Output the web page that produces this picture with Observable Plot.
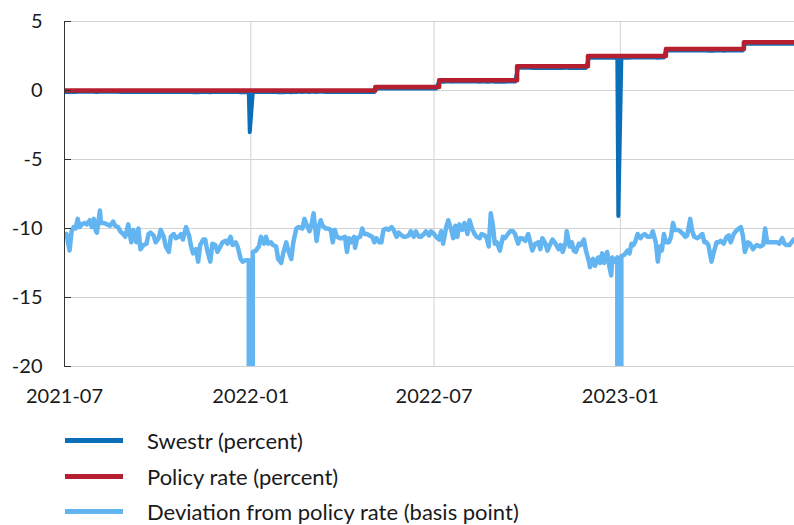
<!DOCTYPE html>
<html><head><meta charset="utf-8">
<script src="https://cdn.jsdelivr.net/npm/d3@7"></script>
<script src="https://cdn.jsdelivr.net/npm/@observablehq/plot@0.6"></script>
<style>
body{margin:0;background:#fff;font-family:Lato,sans-serif;width:794px;height:525px;overflow:hidden}
#legend{margin-top:3px}
.row{display:flex;align-items:center;height:35.5px}
.sw{margin-left:65px;width:58px;height:5px}
.lab{margin-left:24px;font-size:22px;color:#1a1a1a;white-space:nowrap}
</style></head><body><div id="chart"></div><div id="legend"></div>
<script>
// Policy rate (percent), step changes
const policyDates = ["2021-07-01","2022-05-04","2022-07-06","2022-09-21","2022-11-30","2023-02-15","2023-05-03","2023-06-22"];
const policyValues = [0, 0.25, 0.75, 1.75, 2.5, 3.0, 3.5, 3.5];

// Deviation of Swestr from policy rate (basis points)
const devDates = [
"2021-07-01","2021-07-03","2021-07-06","2021-07-08","2021-07-10","2021-07-12","2021-07-14","2021-07-16","2021-07-18","2021-07-21","2021-07-23","2021-07-26","2021-07-28","2021-07-30",
"2021-08-01","2021-08-02","2021-08-05","2021-08-06","2021-08-09","2021-08-12","2021-08-15","2021-08-18","2021-08-20","2021-08-23","2021-08-25","2021-08-28","2021-08-30",
"2021-09-02","2021-09-04","2021-09-05","2021-09-07","2021-09-10","2021-09-12","2021-09-14","2021-09-17","2021-09-20","2021-09-22","2021-09-24","2021-09-27","2021-09-29",
"2021-10-02","2021-10-04","2021-10-07","2021-10-09","2021-10-12","2021-10-14","2021-10-17","2021-10-19","2021-10-22","2021-10-24","2021-10-26","2021-10-29",
"2021-11-01","2021-11-03","2021-11-05","2021-11-08","2021-11-10","2021-11-12","2021-11-15","2021-11-17","2021-11-19","2021-11-22","2021-11-24","2021-11-27","2021-11-29",
"2021-12-02","2021-12-04","2021-12-07","2021-12-09","2021-12-12","2021-12-14","2021-12-17","2021-12-19","2021-12-22","2021-12-24","2021-12-27","2021-12-30","2021-12-31",
"2022-01-03","2022-01-06","2022-01-09","2022-01-11","2022-01-14","2022-01-16","2022-01-18","2022-01-21","2022-01-23","2022-01-26","2022-01-28","2022-01-31",
"2022-02-02","2022-02-05","2022-02-07","2022-02-10","2022-02-12","2022-02-15","2022-02-17","2022-02-21","2022-02-23","2022-02-25","2022-02-28",
"2022-03-02","2022-03-04","2022-03-07","2022-03-09","2022-03-11","2022-03-13","2022-03-16","2022-03-18","2022-03-21","2022-03-23","2022-03-25","2022-03-27","2022-03-30",
"2022-04-01","2022-04-04","2022-04-06","2022-04-08","2022-04-10","2022-04-13","2022-04-14","2022-04-16","2022-04-19","2022-04-21","2022-04-23","2022-04-26","2022-04-28",
"2022-05-01","2022-05-03","2022-05-05","2022-05-08","2022-05-10","2022-05-12","2022-05-15","2022-05-17","2022-05-20","2022-05-22","2022-05-25","2022-05-27","2022-05-30",
"2022-06-01","2022-06-03","2022-06-06","2022-06-08","2022-06-11","2022-06-13","2022-06-16","2022-06-18","2022-06-21","2022-06-23","2022-06-26","2022-06-28",
"2022-07-01","2022-07-03","2022-07-06","2022-07-08","2022-07-10","2022-07-13","2022-07-15","2022-07-18","2022-07-20","2022-07-22","2022-07-24","2022-07-26","2022-07-29","2022-07-31",
"2022-08-03","2022-08-05","2022-08-08","2022-08-10","2022-08-12","2022-08-15","2022-08-17","2022-08-20","2022-08-22","2022-08-24","2022-08-26","2022-08-28","2022-08-30",
"2022-09-01","2022-09-04","2022-09-07","2022-09-09","2022-09-12","2022-09-14","2022-09-17","2022-09-19","2022-09-22","2022-09-24","2022-09-26","2022-09-29",
"2022-10-02","2022-10-04","2022-10-06","2022-10-09","2022-10-12","2022-10-14","2022-10-16","2022-10-19","2022-10-21","2022-10-24","2022-10-26","2022-10-29",
"2022-11-01","2022-11-03","2022-11-05","2022-11-08","2022-11-09","2022-11-12","2022-11-14","2022-11-16","2022-11-18","2022-11-21","2022-11-23","2022-11-26","2022-11-28",
"2022-12-01","2022-12-02","2022-12-05","2022-12-07","2022-12-10","2022-12-12","2022-12-14","2022-12-16","2022-12-19","2022-12-21","2022-12-23","2022-12-24","2022-12-26","2022-12-29","2022-12-30",
"2023-01-02","2023-01-05","2023-01-08","2023-01-10","2023-01-12","2023-01-14","2023-01-16","2023-01-18","2023-01-21","2023-01-23","2023-01-25","2023-01-28","2023-01-31",
"2023-02-02","2023-02-05","2023-02-07","2023-02-09","2023-02-11","2023-02-13","2023-02-15","2023-02-18","2023-02-20","2023-02-22","2023-02-24","2023-02-27",
"2023-03-01","2023-03-04","2023-03-06","2023-03-08","2023-03-11","2023-03-13","2023-03-15","2023-03-18","2023-03-20","2023-03-23","2023-03-25","2023-03-27","2023-03-29",
"2023-04-01","2023-04-03","2023-04-06","2023-04-08","2023-04-10","2023-04-13","2023-04-16","2023-04-18","2023-04-20","2023-04-23","2023-04-25","2023-04-28","2023-04-30",
"2023-05-02","2023-05-04","2023-05-07","2023-05-09","2023-05-12","2023-05-14","2023-05-16","2023-05-19","2023-05-22","2023-05-24","2023-05-26","2023-05-28","2023-05-31",
"2023-06-02","2023-06-05","2023-06-07","2023-06-10","2023-06-12","2023-06-14","2023-06-17","2023-06-19","2023-06-21"
];
const devValues = [
-10.4,-10.4,-11.6,-10.2,-9.9,-10.0,-9.3,-9.9,-9.7,-9.6,-9.7,-9.4,-9.9,-9.3,
-10.2,-10.3,-8.7,-9.6,-9.6,-9.7,-9.8,-9.5,-9.8,-9.9,-10.2,-10.4,-10.6,
-9.7,-10.6,-11.0,-10.1,-11.0,-10.0,-11.5,-11.2,-11.1,-10.4,-10.3,-10.5,-11.0,
-10.7,-10.1,-10.6,-11.3,-11.7,-10.6,-10.4,-10.7,-10.6,-10.4,-10.8,-9.9,
-10.5,-11.3,-11.8,-11.5,-12.4,-11.2,-10.8,-10.8,-11.6,-12.4,-11.1,-11.2,-11.7,
-11.3,-11.0,-10.9,-11.1,-10.6,-11.2,-11.0,-11.3,-12.2,-12.4,-12.3,-12.3,-302,
-11.7,-11.6,-11.3,-10.6,-11.1,-10.6,-11.1,-11.0,-11.2,-11.3,-12.2,-12.5,
-11.8,-11.0,-11.6,-12.2,-11.0,-10.0,-9.9,-10.0,-9.3,-9.7,-10.2,
-9.7,-8.9,-10.9,-9.9,-9.4,-9.8,-10.0,-10.0,-10.1,-11.0,-10.1,-10.6,-10.7,
-10.7,-10.6,-11.7,-10.7,-11.0,-10.6,-11.4,-10.7,-10.6,-10.0,-10.4,-10.4,-10.5,
-10.6,-11.0,-10.7,-11.0,-11.0,-10.1,-10.0,-10.1,-9.9,-10.1,-10.6,-10.3,-10.5,
-10.6,-10.6,-10.5,-10.2,-10.6,-10.2,-10.6,-10.6,-10.4,-10.2,-10.5,-10.2,
-10.4,-10.6,-10.8,-10.2,-11.1,-9.9,-9.4,-10.1,-10.7,-9.8,-10.6,-9.7,-10.1,-9.6,
-10.4,-9.4,-10.1,-10.4,-10.6,-10.7,-10.4,-10.5,-10.7,-11.3,-8.9,-9.7,-11.1,
-11.0,-11.6,-10.6,-10.7,-10.4,-10.2,-10.2,-10.4,-11.1,-10.7,-10.7,-10.9,
-10.4,-11.0,-11.6,-11.1,-11.0,-11.5,-10.7,-11.1,-11.6,-11.1,-10.8,-11.1,
-11.5,-11.2,-11.7,-11.0,-10.2,-11.3,-11.0,-11.6,-11.7,-11.1,-11.2,-10.8,-11.6,
-12.4,-12.8,-12.2,-12.7,-12.1,-12.5,-11.8,-12.5,-11.7,-12.7,-13.4,-12.1,-12.4,-12.1,-1160,
-12.0,-11.9,-11.6,-11.8,-11.1,-11.2,-10.9,-10.4,-10.7,-10.5,-10.4,-10.6,-10.6,
-10.2,-11.0,-12.4,-11.3,-11.6,-10.4,-11.0,-11.0,-10.6,-9.6,-10.1,-10.1,
-10.2,-10.4,-10.6,-10.5,-9.3,-10.2,-10.6,-10.7,-10.6,-10.4,-11.0,-11.0,-11.2,
-12.4,-11.8,-11.0,-11.0,-10.9,-11.1,-10.6,-10.5,-11.0,-10.4,-10.2,-10.0,-9.9,
-10.5,-11.7,-11.0,-11.1,-11.5,-11.3,-11.2,-11.3,-11.2,-10.0,-11.0,-11.0,-11.0,
-11.0,-11.0,-11.1,-10.7,-11.1,-11.2,-11.2,-11.0,-10.8
];

const yTicks = [5, 0, -5, -10, -15, -20];
const xTickLabels = ["2021-07", "2022-01", "2022-07", "2023-01"];
const xDomain = ["2021-07-01", "2023-06-22"];

const seriesNames = ["Swestr (percent)", "Policy rate (percent)", "Deviation from policy rate (basis point)"];
const seriesColors = ["#0a6fb8", "#b61f2f", "#62b5f1"];

const parse = d3.utcParse("%Y-%m-%d");
const pDates = policyDates.map(parse);
function policyAt(d) {
  let v = policyValues[0];
  for (let i = 0; i < pDates.length; i++) if (pDates[i] <= d) v = policyValues[i];
  return v;
}
const policy = pDates.map((d, i) => ({date: d, value: policyValues[i]}));
const dev = devDates.map((s, i) => ({date: parse(s), value: devValues[i]}));
const swestr = dev.map(d => ({date: d.date, value: policyAt(d.date) + d.value / 100}));
const xTicks = xTickLabels.map(s => parse(s + "-01"));

const chart = Plot.plot({
  width: 794, height: 420,
  marginTop: 21, marginBottom: 54, marginLeft: 64, marginRight: 0,
  style: {fontFamily: "Lato, sans-serif", fontSize: "20px", color: "#1a1a1a", background: "#fff", overflow: "visible"},
  x: {type: "utc", domain: xDomain.map(parse), label: null},
  y: {domain: [-20, 5], label: null},
  marks: [
    Plot.gridY(yTicks, {stroke: "#d2d2d2", strokeOpacity: 1}),
    Plot.gridX(xTicks, {stroke: "#d2d2d2", strokeOpacity: 1}),
    Plot.lineY(dev, {x: "date", y: "value", stroke: seriesColors[2], strokeWidth: 4.5, clip: true}),
    Plot.lineY(swestr, {x: "date", y: "value", stroke: seriesColors[0], strokeWidth: 4, clip: true}),
    Plot.lineY(policy, {x: "date", y: "value", stroke: seriesColors[1], strokeWidth: 4.5, curve: "step-after", clip: true}),
    Plot.frame({anchor: "left", stroke: "#333"}),
    Plot.axisY(yTicks, {tickSize: -7, tickPadding: 29, stroke: "#333", fontSize: 20, label: null, tickFormat: d => String(d)}),
    Plot.axisX(xTicks, {tickSize: 0, tickPadding: 22, tickFormat: d3.utcFormat("%Y-%m"), fontSize: 20, label: null})
  ]
});
document.getElementById("chart").appendChild(chart);

const legend = document.getElementById("legend");
seriesNames.forEach((name, i) => {
  const row = document.createElement("div");
  row.className = "row";
  row.innerHTML = `<div class="sw" style="background:${seriesColors[i]}"></div><div class="lab">${name}</div>`;
  legend.appendChild(row);
});
</script>
</body></html>
